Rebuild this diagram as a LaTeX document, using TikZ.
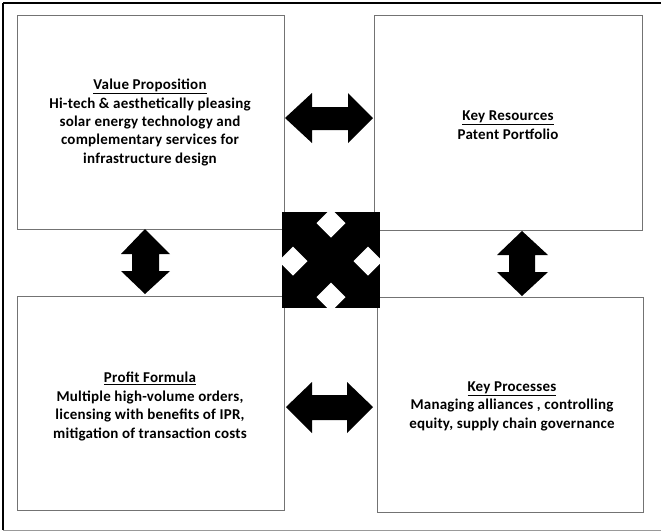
\documentclass[tikz,border=0pt]{standalone}
\usepackage{fontspec}
\setmainfont{Carlito}[LetterSpace=1.5]
\begin{document}
\begin{tikzpicture}[x=1pt,y=-1pt,
  box/.style={draw=black!55, line width=1.4pt, anchor=north west, inner sep=0pt},
  lbl/.style={font=\bfseries\fontsize{15}{18.4}\selectfont, align=center, inner sep=0pt},
  arrowfill/.style={fill=black}]
\useasboundingbox (0,0) rectangle (661,531);
\fill[white] (0,0) rectangle (661,531);

% outer frame
\draw[black!40, line width=1pt] (3,530) -- (661,530);
\draw[black, line width=1.2pt] (661,3) -- (3,3);
\draw[black, line width=2pt] (3,3) -- (3,530);

% four quadrant boxes
\node[box, minimum width=267pt, minimum height=214pt] (vp) at (17,15) {};
\node[box, minimum width=268pt, minimum height=215pt] (kr) at (374,15) {};
\node[box, minimum width=267pt, minimum height=214pt] (pf) at (17,296) {};
\node[box, minimum width=266pt, minimum height=215pt] (kp) at (377,297) {};

% labels
\node[lbl] (vpt) at (150,122.5) {\underline{Value Proposition}\\Hi-tech \& aesthetically pleasing\\solar energy technology and\\complementary services for\\infrastructure design};
\node[lbl] (krt) at (508,125) {\underline{Key Resources}\\Patent Portfolio};
\node[lbl] (pft) at (150,406.5) {\underline{Profit Formula}\\Multiple high-volume orders,\\licensing with benefits of IPR,\\mitigation of transaction costs};
\node[lbl] (kpt) at (512,406) {\underline{Key Processes}\\Managing alliances , controlling\\equity, supply chain governance};

% horizontal double arrows
\fill[arrowfill] (285,118) -- (312,93) -- (312,107) -- (348,107) -- (348,93) -- (373,118)
  -- (348,143) -- (348,130) -- (312,130) -- (312,143) -- cycle;
\fill[arrowfill] (286,407) -- (312,382) -- (312,395) -- (347,395) -- (347,382) -- (373,407)
  -- (347,433) -- (347,420) -- (312,420) -- (312,433) -- cycle;

% vertical double arrows
\fill[arrowfill] (145,229) -- (170,254) -- (159,254) -- (159,271) -- (170,271) -- (145,294)
  -- (121,271) -- (132,271) -- (132,254) -- (121,254) -- cycle;
\fill[arrowfill] (522,231) -- (548,255) -- (535,255) -- (535,272) -- (548,272) -- (522,296)
  -- (497,272) -- (509,272) -- (509,255) -- (497,255) -- cycle;

% central block with four diamond notches
\begin{scope}
  \clip (282,212) rectangle (380,308);
  \fill[black] (282,212) rectangle (380,308);
  \foreach \cx/\cy in {331/223, 331/297, 293/261, 368/261}
    \fill[white] (\cx,\cy-14.5) -- (\cx+14.5,\cy) -- (\cx,\cy+14.5) -- (\cx-14.5,\cy) -- cycle;
\end{scope}
\end{tikzpicture}
\end{document}
